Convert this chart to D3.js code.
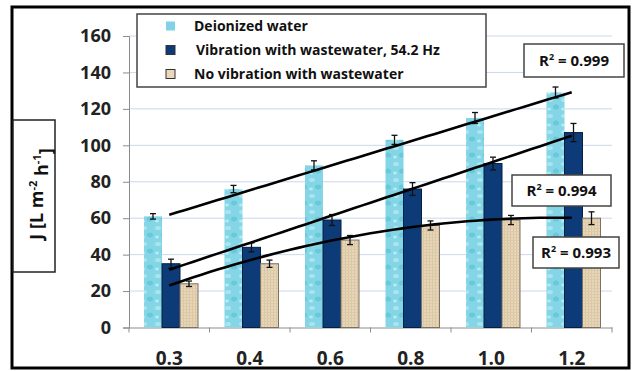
<!DOCTYPE html>
<html>
<head>
<meta charset="utf-8">
<script src="https://cdn.jsdelivr.net/npm/d3@7"></script>
<style>
  body { margin: 0; background: #fff; }
  text { font-family: "Open Sans", sans-serif; }
</style>
</head>
<body>
<div id="chart"></div>
<script>
const categories = ["0.3", "0.4", "0.6", "0.8", "1.0", "1.2"];
const seriesNames = ["Deionized water", "Vibration with wastewater, 54.2 Hz", "No vibration with wastewater"];
const deionized = [61, 76, 89, 103, 115, 129];
const deionizedErr = [1.5, 2, 2.5, 2.5, 3, 3];
const vibration = [35, 44, 59, 76, 90, 107];
const vibrationErr = [2.5, 2.5, 3, 3.5, 3.5, 5];
const noVibration = [24, 35, 48, 56, 59, 60];
const noVibrationErr = [1.5, 2, 2.5, 2.5, 2.5, 3.5];
const yTicks = [0, 20, 40, 60, 80, 100, 120, 140, 160];
const r2Labels = ["0.999", "0.994", "0.993"];

const W = 634, H = 371;
const svg = d3.select("#chart").append("svg")
  .attr("width", W)
  .attr("height", H);

// textures for the light and beige bars
const defs = svg.append("defs");
const water = defs.append("pattern")
  .attr("id", "water")
  .attr("patternUnits", "userSpaceOnUse")
  .attr("width", 14).attr("height", 16);
water.append("rect").attr("width", 14).attr("height", 16).attr("fill", "#84d6e6");
water.append("ellipse").attr("cx", 4).attr("cy", 4).attr("rx", 3).attr("ry", 2).attr("fill", "#a8e5ef");
water.append("ellipse").attr("cx", 10).attr("cy", 11).attr("rx", 3).attr("ry", 2.5).attr("fill", "#69c8db");
water.append("ellipse").attr("cx", 3).attr("cy", 13).attr("rx", 2).attr("ry", 1.5).attr("fill", "#b4eaf2");

const linen = defs.append("pattern")
  .attr("id", "linen")
  .attr("patternUnits", "userSpaceOnUse")
  .attr("width", 3).attr("height", 3);
linen.append("rect").attr("width", 3).attr("height", 3).attr("fill", "#e7d6b8");
linen.append("rect").attr("width", 1).attr("height", 3).attr("fill", "#d9c6a4");
linen.append("rect").attr("width", 3).attr("height", 1).attr("fill", "#dccaa9");

const series = [
  { name: seriesNames[0], values: deionized, err: deionizedErr, fill: "url(#water)", swatch: "#7fd3e4", stroke: "none" },
  { name: seriesNames[1], values: vibration, err: vibrationErr, fill: "#0c3b77", swatch: "#0c3b77", stroke: "#061f44" },
  { name: seriesNames[2], values: noVibration, err: noVibrationErr, fill: "url(#linen)", swatch: "#e9d8bb", stroke: "#7d7163" }
];

// outer frame
svg.append("rect")
  .attr("x", 12).attr("y", 7)
  .attr("width", 617).attr("height", 361)
  .attr("fill", "#fff")
  .attr("stroke", "#000")
  .attr("stroke-width", 3);

const x = d3.scaleBand().domain(categories).range([129, 612]).paddingInner(0).paddingOuter(0);
const xs = d3.scaleBand().domain(d3.range(series.length)).range([15, 69]);
const y = d3.scaleLinear().domain([0, 160]).range([327.5, 36]);

// gridlines
svg.append("g")
  .selectAll("line")
  .data(yTicks.filter(d => d > 0))
  .enter().append("line")
    .attr("x1", 129).attr("x2", 612)
    .attr("y1", d => y(d)).attr("y2", d => y(d))
    .attr("stroke", "#c8d8ee")
    .attr("stroke-width", 1);

// y axis
const yAxis = svg.append("g")
  .attr("transform", "translate(129,0)")
  .call(d3.axisLeft(y).tickValues(yTicks).tickSize(6).tickPadding(12));
yAxis.select(".domain").attr("stroke", "#8c8c8c");
yAxis.selectAll(".tick line").attr("stroke", "#8c8c8c");
yAxis.selectAll(".tick text")
  .attr("font-size", 18)
  .attr("font-weight", "bold")
  .attr("fill", "#222");

// x axis, ticks sit between categories
const xAxis = svg.append("g")
  .attr("transform", "translate(0," + y(0) + ")")
  .call(d3.axisBottom(x).tickSize(0).tickPadding(24));
xAxis.select(".domain").attr("stroke", "#8c8c8c");
xAxis.selectAll(".tick text")
  .attr("font-size", 19)
  .attr("font-weight", "bold")
  .attr("fill", "#222");
xAxis.selectAll(".sep")
  .data(d3.range(categories.length + 1))
  .enter().append("line")
    .attr("class", "sep")
    .attr("x1", i => 129 + i * x.bandwidth())
    .attr("x2", i => 129 + i * x.bandwidth())
    .attr("y1", 0).attr("y2", 5)
    .attr("stroke", "#8c8c8c");

// bars
const bars = svg.append("g");
series.forEach((s, si) => {
  bars.append("g")
    .selectAll("rect")
    .data(s.values)
    .enter().append("rect")
      .attr("x", (d, i) => x(categories[i]) + xs(si))
      .attr("y", d => y(d))
      .attr("width", xs.bandwidth())
      .attr("height", d => y(0) - y(d))
      .attr("fill", s.fill)
      .attr("stroke", s.stroke)
      .attr("stroke-width", 1);
});

// error bars
series.forEach((s, si) => {
  const g = svg.append("g").attr("stroke", "#111").attr("stroke-width", 1.3);
  s.values.forEach((v, i) => {
    const cx = x(categories[i]) + xs(si) + xs.bandwidth() / 2;
    g.append("line").attr("x1", cx).attr("x2", cx).attr("y1", y(v - s.err[i])).attr("y2", y(v + s.err[i]));
    g.append("line").attr("x1", cx - 3).attr("x2", cx + 3).attr("y1", y(v + s.err[i])).attr("y2", y(v + s.err[i]));
    g.append("line").attr("x1", cx - 3).attr("x2", cx + 3).attr("y1", y(v - s.err[i])).attr("y2", y(v - s.err[i]));
  });
});

// trend lines (least squares on category index 1..n)
function polyFit(vals, order) {
  const n = order + 1;
  const A = d3.range(n).map(() => new Array(n + 1).fill(0));
  vals.forEach((v, i) => {
    const t = i + 1;
    for (let r = 0; r < n; r++) {
      for (let c = 0; c < n; c++) A[r][c] += Math.pow(t, r + c);
      A[r][n] += v * Math.pow(t, r);
    }
  });
  for (let p = 0; p < n; p++) {
    for (let r = p + 1; r < n; r++) {
      const f = A[r][p] / A[p][p];
      for (let c = p; c <= n; c++) A[r][c] -= f * A[p][c];
    }
  }
  const coef = new Array(n).fill(0);
  for (let r = n - 1; r >= 0; r--) {
    let s = A[r][n];
    for (let c = r + 1; c < n; c++) s -= A[r][c] * coef[c];
    coef[r] = s / A[r][r];
  }
  return t => coef.reduce((acc, k, j) => acc + k * Math.pow(t, j), 0);
}

const tx = d3.scaleLinear().domain([1, categories.length])
  .range([x(categories[0]) + x.bandwidth() / 2, x(categories[categories.length - 1]) + x.bandwidth() / 2]);
const line = d3.line().x(d => tx(d[0])).y(d => y(d[1]));
[[deionized, 1], [vibration, 1], [noVibration, 2]].forEach(([vals, order]) => {
  const f = polyFit(vals, order);
  const pts = d3.range(1, categories.length + 0.001, 0.1).map(t => [t, f(t)]);
  svg.append("path")
    .attr("d", line(pts))
    .attr("fill", "none")
    .attr("stroke", "#000")
    .attr("stroke-width", 2.6);
});

// R² boxes
const r2Boxes = [
  { x: 524, y: 44, w: 100, h: 33 },
  { x: 512, y: 175, w: 99, h: 31 },
  { x: 533, y: 237, w: 86, h: 31 }
];
r2Boxes.forEach((b, i) => {
  const g = svg.append("g");
  g.append("rect")
    .attr("x", b.x).attr("y", b.y)
    .attr("width", b.w).attr("height", b.h)
    .attr("fill", "#fff")
    .attr("stroke", "#444")
    .attr("stroke-width", 1.5);
  const t = g.append("text")
    .attr("x", b.x + b.w / 2).attr("y", b.y + b.h / 2)
    .attr("dy", "0.35em")
    .attr("text-anchor", "middle")
    .attr("font-size", 15)
    .attr("font-weight", "bold")
    .attr("fill", "#111");
  t.append("tspan").text("R");
  t.append("tspan").attr("font-size", 9).attr("dy", "-0.6em").text("2");
  t.append("tspan").attr("dy", "0.35em").text(" = " + r2Labels[i]);
});

// legend
const legend = svg.append("g");
legend.append("rect")
  .attr("x", 137).attr("y", 14)
  .attr("width", 349).attr("height", 73)
  .attr("fill", "#fff")
  .attr("stroke", "#444")
  .attr("stroke-width", 1.5);
series.forEach((s, i) => {
  const cy = 26 + i * 24;
  legend.append("rect")
    .attr("x", 166).attr("y", cy - 4.5)
    .attr("width", 9).attr("height", 9)
    .attr("fill", s.swatch)
    .attr("stroke", s.stroke === "none" ? "none" : "#333")
    .attr("stroke-width", 1);
  legend.append("text")
    .attr("x", i === 1 ? 196 : 194).attr("y", cy)
    .attr("dy", "0.35em")
    .attr("font-size", 14)
    .attr("font-weight", "bold")
    .attr("fill", "#111")
    .text(s.name);
});

// y axis title box
svg.append("rect")
  .attr("x", 13).attr("y", 120)
  .attr("width", 42).attr("height", 152)
  .attr("fill", "#fff")
  .attr("stroke", "#222")
  .attr("stroke-width", 1.5);
const yt = svg.append("text")
  .attr("transform", "translate(37,194) rotate(-90)")
  .attr("dy", "0.35em")
  .attr("text-anchor", "middle")
  .attr("font-size", 18)
  .attr("font-weight", "bold")
  .attr("fill", "#111");
yt.append("tspan").text("J [L m");
yt.append("tspan").attr("font-size", 11).attr("dy", "-0.6em").text("-2");
yt.append("tspan").attr("dy", "0.6em").text(" h");
yt.append("tspan").attr("font-size", 11).attr("dy", "-0.6em").text("-1");
yt.append("tspan").attr("dy", "0.6em").text("]");
</script>
</body>
</html>
